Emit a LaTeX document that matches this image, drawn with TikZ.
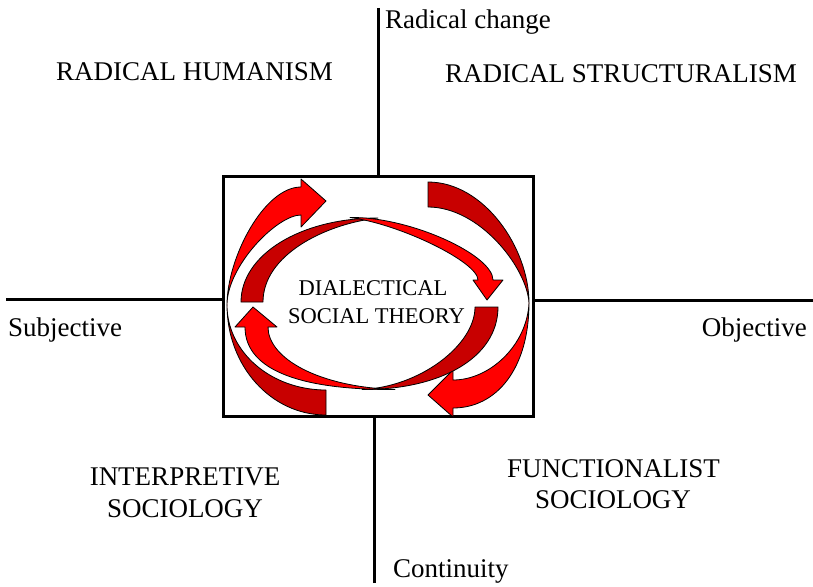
\documentclass[tikz,border=0pt]{standalone}
\usepackage{fontspec}
\setmainfont{Liberation Serif}
\definecolor{brightred}{RGB}{255,0,0}
\definecolor{darkred}{RGB}{200,0,0}
\begin{document}
\begin{tikzpicture}[x=1pt,y=-1pt,
  axis/.style={line width=3pt},
  frontpart/.style={fill=brightred,draw=black,line width=0.8pt,line join=round},
  backpart/.style={fill=darkred,draw=black,line width=0.8pt,line join=round},
  quad/.style={font=\fontsize{27}{32}\selectfont,anchor=base,inner sep=0pt},
  axlabel/.style={font=\fontsize{27}{32}\selectfont,inner sep=0pt},
  centre/.style={font=\fontsize{22.5}{28}\selectfont,anchor=base,inner sep=0pt}]
\useasboundingbox (0,0) rectangle (813,586);

% frame
\node[draw,line width=2.5pt,minimum width=310pt,minimum height=240pt,inner sep=0pt,anchor=north west] (box) at (222,175) {};

% axes
\coordinate (ntop) at (378,8);
\coordinate (sbot) at (374,583);
\coordinate (wend) at (6,299);
\coordinate (eend) at (813,300);
\draw[axis] (ntop) -- (ntop |- box.north);
\draw[axis] (sbot) -- (sbot |- box.south);
\draw[axis] (wend) -- (wend -| box.west);
\draw[axis] (eend) -- (eend -| box.east);

% outer left arrow: back (dark) part
\draw[backpart] (227,305) .. controls (227,366) and (271,415) .. (326,415)
  -- (326,390) .. controls (271,390) and (227,352) .. (227,305) -- cycle;
% outer left arrow: front (bright) part
\draw[frontpart] (227,305) .. controls (227,258) and (264,187) .. (301,187)
  -- (301,179) -- (326,201) -- (301,227) -- (301,215)
  .. controls (277,215) and (227,266) .. (227,305) -- cycle;

% outer right arrow: back (dark) part
\draw[backpart] (428,182) .. controls (484,182) and (529,248) .. (529,303)
  .. controls (527,268) and (480,207) .. (428,207) -- cycle;
% outer right arrow: front (bright) part
\draw[frontpart] (529,303) .. controls (529,368) and (497,408) .. (453,408)
  -- (453,417) -- (428,395) -- (453,370) -- (453,380)
  .. controls (490,380) and (527,345) .. (529,303) -- cycle;

% inner upper arrow: back (dark) part
\draw[backpart] (241,302) .. controls (241,255) and (300,218) .. (378,218)
  .. controls (325,224) and (263,255) .. (263,302) -- cycle;
% inner upper arrow: front (bright) part
\draw[frontpart] (350,217.5) .. controls (410,216.5) and (493,255) .. (493,280)
  -- (503,280) -- (487,300) -- (473,280) -- (478,280)
  .. controls (478,262) and (400,224) .. (350,217.5) -- cycle;

% inner lower arrow: back (dark) part
\draw[backpart] (498,307) .. controls (498,358) and (440,390) .. (362,389.5)
  .. controls (420,387) and (475,345) .. (475,307) -- cycle;
% inner lower arrow: front (bright) part
\draw[frontpart] (395,389.5) .. controls (305,390) and (245,372) .. (245,327)
  -- (235,327) -- (253,307) -- (277,327) -- (268,327)
  .. controls (268,358) and (318,387) .. (395,389.5) -- cycle;

% centre text
\node[centre] (dial) at (373,295) {DIALECTICAL};
\node[centre] (soct) at (376.5,323) {SOCIAL THEORY};

% quadrant labels
\node[quad] (rh) at (194.5,80.5) {RADICAL HUMANISM};
\node[quad] (rs) at (621,82) {RADICAL STRUCTURALISM};
\node[quad] (is1) at (185,485) {INTERPRETIVE};
\node[quad] (is2) at (185,517) {SOCIOLOGY};
\node[quad] (fs1) at (613.5,477) {FUNCTIONALIST};
\node[quad] (fs2) at (613,508) {SOCIOLOGY};

% axis labels
\node[axlabel,anchor=base west] (rc) at (385,29) {Radical change};
\node[axlabel,anchor=base west] (subj) at (8,336) {Subjective};
\node[axlabel,anchor=base east] (obj) at (807,336) {Objective};
\node[axlabel,anchor=base west] (cont) at (393,577) {Continuity};
\end{tikzpicture}
\end{document}
